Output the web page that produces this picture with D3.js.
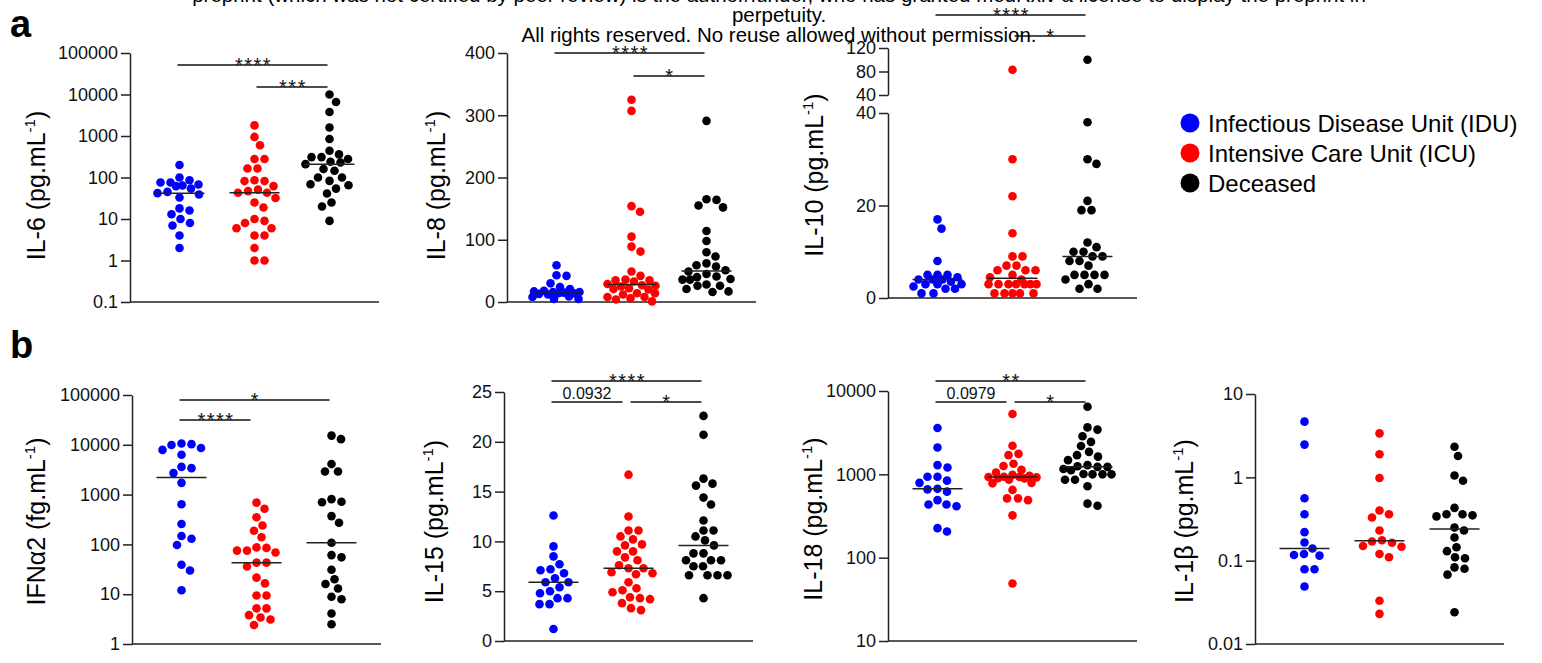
<!DOCTYPE html>
<html>
<head>
<meta charset="utf-8">
<script src="https://cdn.jsdelivr.net/npm/d3@7"></script>
<style>
body { margin: 0; background: #fff; }
svg { font-family: "Liberation Sans", Arial, Helvetica, sans-serif; }
</style>
</head>
<body>
<svg id="fig" width="1542" height="663"></svg>
<script>
// groups and colours
var groups = ["Infectious Disease Unit (IDU)", "Intensive Care Unit (ICU)", "Deceased"];
var groupColors = ["#0000ff", "#ff0000", "#000000"];

// panel a
var il6IDU = [200, 100, 86, 76, 76, 68, 64, 62, 54, 45, 42, 39, 33, 18, 16, 13, 10, 8, 7, 4, 2];
var il6ICU = [1800, 950, 600, 280, 280, 165, 165, 86, 82, 82, 62, 51, 47, 43, 43, 32, 25, 19, 10, 9, 8, 6, 6, 4, 4, 2, 1, 1];
var il6DEC = [10000, 6600, 3800, 1600, 850, 440, 360, 310, 310, 280, 240, 230, 210, 160, 145, 100, 100, 83, 69, 65, 54, 41, 25, 20, 9];
var il6Ticks = [0.1, 1, 10, 100, 1000, 10000, 100000];
var il6Sig = [[0, 2, "****"], [1, 2, "***"]];

var il8IDU = [59, 43, 42, 30, 24, 21, 18, 17, 16, 16, 15, 14, 14, 13, 12, 9, 8, 5, 5];
var il8ICU = [325, 307, 154, 145, 105, 89, 81, 49, 42, 36, 35, 35, 33, 29, 27, 26, 25, 22, 21, 20, 14, 14, 12, 8, 8, 6, 4, 1];
var il8DEC = [291, 165, 164, 155, 152, 114, 98, 80, 73, 62, 59, 57, 51, 49, 45, 41, 40, 37, 36, 36, 28, 26, 26, 21, 17, 16];
var il8Ticks = [0, 100, 200, 300, 400];
var il8Sig = [[0, 2, "****"], [1, 2, "*"]];

var il10IDU = [17, 15, 8, 5, 5, 5, 4.5, 4, 4, 4, 3.5, 3, 3, 3, 2.5, 2, 2, 1, 1];
var il10ICU = [83, 30, 22, 14, 9, 9, 7, 7, 6, 6, 6, 5, 4.5, 4, 3, 3, 3, 3, 3, 3, 3, 1, 1, 1, 1, 1];
var il10DEC = [100, 38, 30, 29, 21, 19, 19, 12, 11, 10, 10, 9, 9, 8, 8, 7, 5, 5, 5, 5, 4, 3, 2, 2];
var il10TicksLow = [0, 20, 40];
var il10TicksHigh = [40, 80, 120];
var il10Sig = [[0, 2, "****"], [1, 2, "*"]];

// panel b
var ifnIDU = [10600, 10300, 9900, 8600, 7900, 6300, 3600, 3400, 2700, 1720, 640, 257, 147, 130, 97, 39, 30, 12];
var ifnICU = [690, 520, 350, 240, 188, 139, 87, 85, 75, 75, 69, 43, 43, 36, 21.5, 16.5, 9.4, 9.4, 5.2, 5.2, 3.8, 3.4, 3.1, 2.4];
var ifnDEC = [15300, 13000, 4100, 2900, 2900, 810, 720, 700, 370, 272, 108, 61, 55, 31, 20, 16, 13, 8.9, 7.9, 4.1, 2.5];
var ifnTicks = [1, 10, 100, 1000, 10000, 100000];
var ifnSig = [[0, 2, "*"], [0, 1, "****"]];

var il15IDU = [12.6, 9.5, 8.5, 7.7, 7.2, 7.1, 6.8, 6.3, 5.9, 5.9, 5.4, 5.0, 4.8, 4.3, 4.3, 3.7, 3.7, 1.2];
var il15ICU = [16.7, 12.5, 11.1, 11.1, 10.5, 10.2, 9.7, 9.6, 9.0, 9.0, 8.4, 8.1, 7.6, 7.3, 7.3, 6.9, 6.8, 6.7, 5.9, 5.3, 5.1, 4.9, 4.4, 4.3, 4.2, 3.8, 3.3, 3.1];
var il15DEC = [22.6, 20.7, 16.3, 15.8, 15.6, 14.4, 13.7, 12.1, 11.1, 11.1, 10.5, 10.1, 9.6, 8.8, 8.8, 8.1, 8.1, 8.1, 7.5, 7.5, 6.6, 6.6, 6.6, 6.6, 4.3];
var il15Ticks = [0, 5, 10, 15, 20, 25];
var il15Sig = [[0, 2, "****"], [0, 1, "0.0932"], [1, 2, "*"]];

var il18IDU = [3600, 2100, 1290, 1210, 935, 935, 840, 790, 670, 660, 620, 490, 435, 435, 414, 226, 206];
var il18ICU = [5300, 2200, 1760, 1700, 1340, 1260, 1130, 1050, 985, 960, 935, 930, 930, 920, 900, 895, 860, 790, 780, 650, 515, 515, 490, 322, 49];
var il18DEC = [6460, 3660, 3440, 2870, 2450, 2190, 1860, 1700, 1630, 1480, 1290, 1250, 1230, 1230, 1160, 1120, 1010, 1000, 1000, 1000, 860, 860, 720, 445, 420];
var il18Ticks = [10, 100, 1000, 10000];
var il18Sig = [[0, 2, "**"], [0, 1, "0.0979"], [1, 2, "*"]];

var il1bIDU = [4.66, 2.47, 0.56, 0.36, 0.22, 0.165, 0.14, 0.12, 0.117, 0.115, 0.079, 0.079, 0.049];
var il1bICU = [3.37, 1.89, 0.98, 0.40, 0.36, 0.33, 0.23, 0.176, 0.17, 0.164, 0.15, 0.147, 0.12, 0.11, 0.033, 0.023];
var il1bDEC = [2.33, 1.8, 1.05, 0.91, 0.43, 0.36, 0.36, 0.35, 0.34, 0.25, 0.23, 0.19, 0.145, 0.13, 0.11, 0.107, 0.083, 0.08, 0.068, 0.024];
var il1bTicks = [0.01, 0.1, 1, 10];

var svg = d3.select("#fig");
var axisColor = "#222";
var dotR = 4.3;
var plotW = 249;
var maxSpread = 24;

var panels = [
  { name: "IL-6", unit: "(pg.mL", data: [il6IDU, il6ICU, il6DEC], type: "log", domain: [0.1, 100000], ticks: il6Ticks,
    x0: 130, top: 53, bottom: 302, labelOff: 85, labelShift: 8, sig: il6Sig, sigY: [65, 87] },
  { name: "IL-8", unit: "(pg.mL", data: [il8IDU, il8ICU, il8DEC], type: "linear", domain: [0, 400], ticks: il8Ticks,
    x0: 507, top: 53, bottom: 302, labelOff: 62, labelShift: 8, sig: il8Sig, sigY: [53, 76] },
  { name: "IL-10", unit: "(pg.mL", data: [il10IDU, il10ICU, il10DEC], type: "break", breakAt: 40,
    lowDomain: [0, 40], highDomain: [40, 120], lowTicks: il10TicksLow, highTicks: il10TicksHigh,
    x0: 888, top: 48, bottom: 298, lowTop: 113, highBottom: 95, labelOff: 65, labelShift: 2, sig: il10Sig, sigY: [15, 36] },
  { name: "IFN\u03b12", unit: "(fg.mL", data: [ifnIDU, ifnICU, ifnDEC], type: "log", domain: [1, 100000], ticks: ifnTicks,
    x0: 132, top: 395, bottom: 644, labelOff: 87, labelShift: 2, sig: ifnSig, sigY: [400, 420] },
  { name: "IL-15", unit: "(pg.mL", data: [il15IDU, il15ICU, il15DEC], type: "linear", domain: [0, 25], ticks: il15Ticks,
    x0: 504, top: 392, bottom: 641, labelOff: 61, labelShift: 5, sig: il15Sig, sigY: [381, 402, 402] },
  { name: "IL-18", unit: "(pg.mL", data: [il18IDU, il18ICU, il18DEC], type: "log", domain: [10, 10000], ticks: il18Ticks,
    x0: 888, top: 391, bottom: 641, labelOff: 66, labelShift: 3, sig: il18Sig, sigY: [381, 402, 402] },
  { name: "IL-1\u03b2", unit: "(pg.mL", data: [il1bIDU, il1bICU, il1bDEC], type: "log", domain: [0.01, 10], ticks: il1bTicks,
    x0: 1255, top: 394, bottom: 644, labelOff: 62, labelShift: 2, sig: [], sigY: [] }
];

// beeswarm with a capped width: points that do not fit overlap the least
function swarm(ys) {
  var minD = 2 * dotR + 1.3;
  var placed = [];
  var out = new Array(ys.length);
  ys.forEach(function (y, i) {
    var best = 0, bestGap = -Infinity;
    for (var k = 0; k <= maxSpread * 4; k++) {
      var cand = (k % 2 ? 1 : -1) * Math.ceil(k / 2) * 0.5;
      var gap = d3.min(placed, function (p) {
        return Math.sqrt((p.x - cand) * (p.x - cand) + (p.y - y) * (p.y - y));
      });
      if (gap === undefined) gap = Infinity;
      if (gap >= minD) { best = cand; bestGap = gap; break; }
      if (gap > bestGap + 0.01) { bestGap = gap; best = cand; }
    }
    placed.push({ x: best, y: y });
    out[i] = best;
  });
  return out;
}

function styleAxis(sel) {
  sel.select(".domain").attr("stroke", axisColor).attr("stroke-width", 1.5);
  sel.selectAll(".tick line").attr("stroke", axisColor).attr("stroke-width", 1.5);
  sel.selectAll(".tick text").attr("fill", "#111").style("font-size", "18px")
    .style("font-family", "'Liberation Sans', Arial, sans-serif");
}

panels.forEach(function (p) {
  var g = svg.append("g");
  var x = d3.scalePoint().domain([0, 1, 2]).range([p.x0, p.x0 + plotW]).padding(0.66);
  var yOf;

  if (p.type === "break") {
    var yLow = d3.scaleLinear().domain(p.lowDomain).range([p.bottom, p.lowTop]);
    var yHigh = d3.scaleLinear().domain(p.highDomain).range([p.highBottom, p.top]);
    yOf = function (v) { return v > p.breakAt ? yHigh(v) : yLow(v); };
    g.append("g").attr("transform", "translate(" + p.x0 + ",0)")
      .call(d3.axisLeft(yLow).tickValues(p.lowTicks).tickFormat(String).tickSize(9).tickSizeOuter(0))
      .call(styleAxis);
    g.append("g").attr("transform", "translate(" + p.x0 + ",0)")
      .call(d3.axisLeft(yHigh).tickValues(p.highTicks).tickFormat(String).tickSize(9).tickSizeOuter(0))
      .call(styleAxis);
  } else {
    var y = (p.type === "log" ? d3.scaleLog() : d3.scaleLinear()).domain(p.domain).range([p.bottom, p.top]);
    yOf = y;
    g.append("g").attr("transform", "translate(" + p.x0 + ",0)")
      .call(d3.axisLeft(y).tickValues(p.ticks).tickFormat(String).tickSize(9).tickSizeOuter(0))
      .call(styleAxis);
  }

  // x axis line
  g.append("line")
    .attr("x1", p.x0).attr("x2", p.x0 + plotW)
    .attr("y1", p.bottom).attr("y2", p.bottom)
    .attr("stroke", axisColor).attr("stroke-width", 1.5);

  // y label
  var lab = g.append("text")
    .attr("transform", "translate(" + (p.x0 - p.labelOff) + "," + ((p.top + p.bottom) / 2 + p.labelShift) + ") rotate(-90)")
    .attr("text-anchor", "middle")
    .style("font-size", "25px")
    .attr("fill", "#000");
  lab.append("tspan").text(p.name + " " + p.unit);
  lab.append("tspan").attr("dy", -10).style("font-size", "15px").text("-1");
  lab.append("tspan").attr("dy", 10).text(")");

  // dots + medians
  p.data.forEach(function (vals, gi) {
    var ys = vals.map(yOf);
    var offs = swarm(ys);
    g.selectAll(null)
      .data(vals)
      .enter()
      .append("circle")
      .attr("cx", function (d, i) { return x(gi) + offs[i]; })
      .attr("cy", function (d, i) { return ys[i]; })
      .attr("r", dotR)
      .attr("fill", groupColors[gi]);

    var med = d3.median(vals);
    g.append("line")
      .attr("x1", x(gi) - 25).attr("x2", x(gi) + 25)
      .attr("y1", yOf(med)).attr("y2", yOf(med))
      .attr("stroke", "#222").attr("stroke-width", 1.5);
  });

  // significance brackets
  p.sig.forEach(function (s, si) {
    var ly = p.sigY[si];
    var x1 = x(s[0]) + (s[0] === 1 ? 2 : -2);
    var x2 = x(s[1]) + (s[1] === 1 ? -6 : -2);
    g.append("line")
      .attr("x1", x1).attr("x2", x2)
      .attr("y1", ly).attr("y2", ly)
      .attr("stroke", "#111").attr("stroke-width", 1.5);
    var isStar = s[2].indexOf("*") === 0;
    g.append("text")
      .attr("x", (x1 + x2) / 2 + (isStar ? 1 : 0))
      .attr("y", isStar ? ly + 7 : ly - 3)
      .attr("text-anchor", "middle")
      .style("font-size", isStar ? "20px" : "16px")
      .style("letter-spacing", isStar ? "1.5px" : "0px")
      .attr("fill", "#111")
      .text(s[2]);
  });
});

// panel letters
svg.append("text").attr("x", 10).attr("y", 37).style("font-size", "38px").style("font-weight", "bold").text("a");
svg.append("text").attr("x", 10).attr("y", 358).style("font-size", "38px").style("font-weight", "bold").text("b");

// legend
var legend = svg.append("g").selectAll("g")
  .data(groups)
  .enter()
  .append("g")
  .attr("transform", function (d, i) { return "translate(1190," + (123 + i * 30) + ")"; });
legend.append("circle").attr("r", 9.5).attr("fill", function (d, i) { return groupColors[i]; });
legend.append("text").attr("x", 18).attr("y", 8.5).style("font-size", "24px").attr("fill", "#000")
  .text(function (d) { return d; });

// preprint notice at the top
var notice = [
  "preprint (which was not certified by peer review) is the author/funder, who has granted medRxiv a license to display the preprint in",
  "perpetuity.",
  "All rights reserved. No reuse allowed without permission."
];
svg.append("g").selectAll("text")
  .data(notice)
  .enter()
  .append("text")
  .attr("x", 779)
  .attr("y", function (d, i) { return 2 + i * 20; })
  .attr("text-anchor", "middle")
  .style("font-size", "20.5px")
  .attr("fill", "#000")
  .text(function (d) { return d; });
</script>
</body>
</html>
